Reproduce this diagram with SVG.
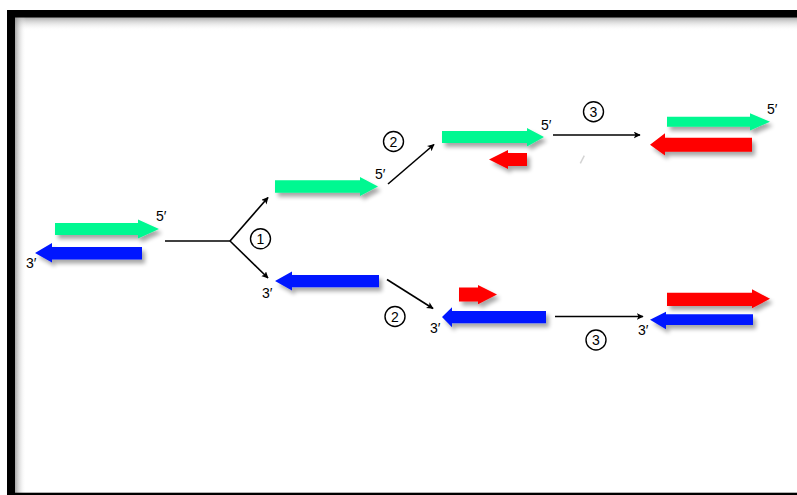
<svg xmlns="http://www.w3.org/2000/svg" width="797" height="495" viewBox="0 0 797 495">
  <defs>
    <filter id="shadow" x="-20%" y="-50%" width="140%" height="220%">
      <feGaussianBlur in="SourceAlpha" stdDeviation="2"/>
      <feOffset dx="3" dy="4" result="b"/>
      <feComponentTransfer><feFuncA type="linear" slope="0.35"/></feComponentTransfer>
      <feMerge><feMergeNode/><feMergeNode in="SourceGraphic"/></feMerge>
    </filter>
    <linearGradient id="shadeDown" x1="0" y1="0" x2="0" y2="1">
      <stop offset="0" stop-color="#888" stop-opacity="0.75"/>
      <stop offset="1" stop-color="#fff" stop-opacity="0"/>
    </linearGradient>
    <linearGradient id="shadeRight" x1="0" y1="0" x2="1" y2="0">
      <stop offset="0" stop-color="#888" stop-opacity="0.75"/>
      <stop offset="1" stop-color="#fff" stop-opacity="0"/>
    </linearGradient>
    <marker id="head" viewBox="0 0 10 10" refX="9" refY="5" markerWidth="7" markerHeight="7" markerUnits="userSpaceOnUse" orient="auto">
      <path d="M0,0 L10,5 L0,10 L2.5,5 Z" fill="#000"/>
    </marker>
    <style>
      .green { fill: #00f891; }
      .blue { fill: #0019ff; }
      .red { fill: #ff0000; }
      .lbl { font-family: "Liberation Sans", Arial, sans-serif; font-size: 14px; fill: #000; }
      .num { font-family: "Liberation Sans", Arial, sans-serif; font-size: 14px; fill: #000; text-anchor: middle; }
      .ring { fill: #fff; stroke: #000; stroke-width: 1.4; }
      .conn line, .conn polyline { stroke: #000; stroke-width: 1.6; fill: none; }
    </style>
  </defs>

  <rect width="797" height="495" fill="#fff"/>

  <!-- frame -->
  <g id="frame">
    <rect x="15" y="17" width="782" height="14" fill="url(#shadeDown)"/>
    <rect x="15" y="17" width="11" height="476" fill="url(#shadeRight)"/>
    <rect x="7" y="10" width="790" height="7.5" fill="#000"/>
    <rect x="7" y="10" width="8" height="485" fill="#000"/>
    <rect x="7" y="492.7" width="790" height="2.3" fill="#000"/>
  </g>

  <!-- connectors -->
  <g id="connectors" class="conn">
    <polyline points="165,241 230,241"/>
    <line x1="230" y1="241" x2="268" y2="197.5" marker-end="url(#head)"/>
    <line x1="230" y1="241" x2="268" y2="278" marker-end="url(#head)"/>
    <line x1="388" y1="184" x2="434" y2="144.5" marker-end="url(#head)"/>
    <line x1="387" y1="279.5" x2="433" y2="308.5" marker-end="url(#head)"/>
    <line x1="553" y1="135" x2="640" y2="135" marker-end="url(#head)"/>
    <line x1="555" y1="316.5" x2="643" y2="316.5" marker-end="url(#head)"/>
  </g>

  <!-- starting duplex -->
  <g id="start" filter="url(#shadow)">
    <polygon class="green" points="55,223 138,223 138,219.5 159,229 138,238.5 138,235 55,235"/>
    <polygon class="blue" points="142,247 52,247 52,243 35,253 52,262.5 52,259.5 142,259.5"/>
  </g>
  <g id="start-labels">
    <text class="lbl" x="156" y="221">5′</text>
    <text class="lbl" x="26" y="268">3′</text>
  </g>

  <!-- separated strands -->
  <g id="strand-top" filter="url(#shadow)">
    <polygon class="green" points="275,180.3 360,180.3 360,177 378,186.5 360,196 360,192.7 275,192.7"/>
  </g>
  <text class="lbl" x="375" y="179">5′</text>
  <g id="strand-bottom" filter="url(#shadow)">
    <polygon class="blue" points="379,275 292,275 292,271.5 275,281 292,290.5 292,287.3 379,287.3"/>
  </g>
  <text class="lbl" x="262" y="298">3′</text>

  <!-- primed strands -->
  <g id="primed-top" filter="url(#shadow)">
    <polygon class="green" points="442,131 527,131 527,128 544,137 527,146.5 527,143 442,143"/>
    <polygon class="red" points="527,153 508,153 508,150 489,159.5 508,169 508,166 527,166"/>
  </g>
  <text class="lbl" x="541" y="130">5′</text>
  <g id="primed-bottom" filter="url(#shadow)">
    <polygon class="blue" points="546,311 452,311 452,307.3 442,317 452,327.3 452,323.3 546,323.3"/>
    <polygon class="red" points="459,287.5 478,287.5 478,285 497,294.5 478,304.3 478,301.5 459,301.5"/>
  </g>
  <text class="lbl" x="430" y="333">3′</text>

  <!-- extended duplexes -->
  <g id="product-top" filter="url(#shadow)">
    <polygon class="green" points="667,116.7 750,116.7 750,113.3 770,121.7 750,130.5 750,126.7 667,126.7"/>
    <polygon class="red" points="752,137.7 665,137.7 665,133.3 650,144.7 665,155.5 665,151.7 752,151.7"/>
  </g>
  <text class="lbl" x="767" y="114">5′</text>
  <g id="product-bottom" filter="url(#shadow)">
    <polygon class="red" points="667,292.7 752,292.7 752,289.3 770,298.8 752,308.3 752,306 667,306"/>
    <polygon class="blue" points="753,314.3 666,314.3 666,311.7 650,319.7 666,329.3 666,325 753,325"/>
  </g>
  <text class="lbl" x="638" y="335">3′</text>

  <!-- step numbers -->
  <g id="step1"><circle class="ring" cx="260.5" cy="238.8" r="10"/><text class="num" x="260.5" y="244">1</text></g>
  <g id="step2-top"><circle class="ring" cx="393.5" cy="141.5" r="10"/><text class="num" x="393.5" y="146.7">2</text></g>
  <g id="step2-bottom"><circle class="ring" cx="395" cy="316.5" r="10"/><text class="num" x="395" y="321.7">2</text></g>
  <g id="step3-top"><circle class="ring" cx="593.5" cy="111.7" r="10"/><text class="num" x="593.5" y="116.9">3</text></g>
  <g id="step3-bottom"><circle class="ring" cx="596" cy="340" r="10"/><text class="num" x="596" y="345.2">3</text></g>

  <!-- faint stray mark -->
  <line x1="584.3" y1="155.7" x2="580.3" y2="163.3" stroke="#d4d4d4" stroke-width="1.5"/>
</svg>
